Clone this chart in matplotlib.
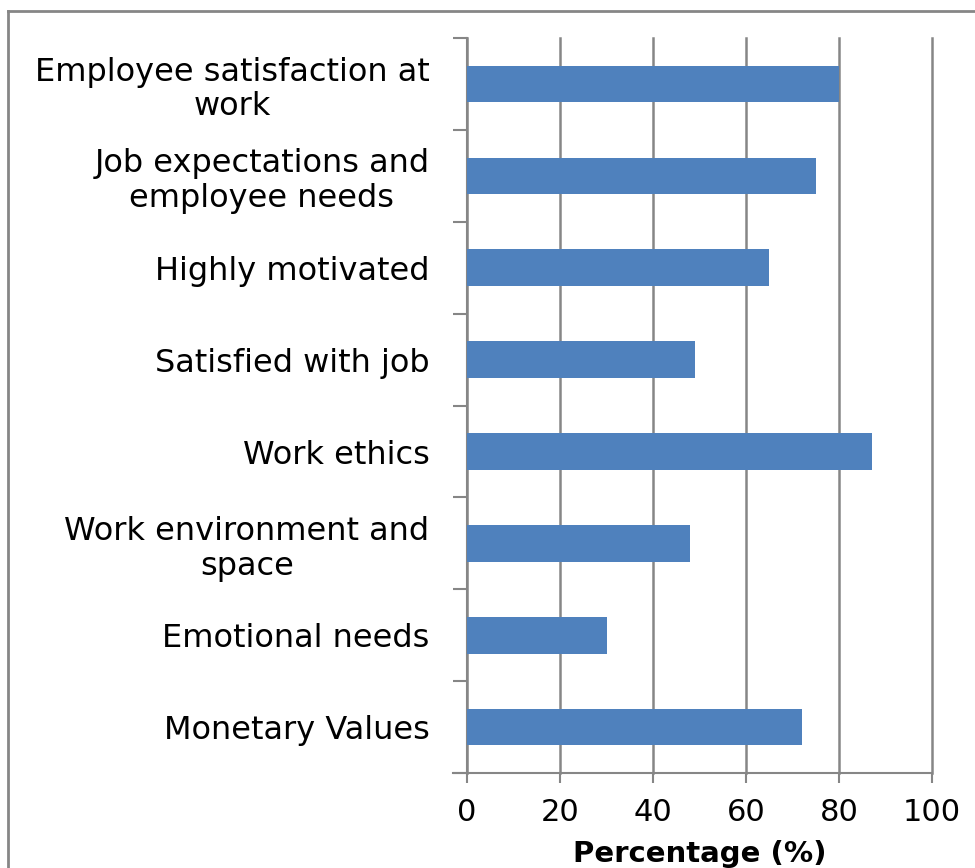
import matplotlib
matplotlib.use("Agg")
import matplotlib.pyplot as plt
from matplotlib.lines import Line2D

categories = [
    "Employee satisfaction at\nwork",
    "Job expectations and\nemployee needs",
    "Highly motivated",
    "Satisfied with job",
    "Work ethics",
    "Work environment and\nspace",
    "Emotional needs",
    "Monetary Values",
]
values = [80, 75, 65, 49, 87, 48, 30, 72]
x_ticks = [0, 20, 40, 60, 80, 100]

plt.rcParams["font.family"] = ["DejaVu Sans"]

fig = plt.figure(figsize=(9.75, 8.68), dpi=100)
ax = fig.add_axes([0.479, 0.1094, 0.477, 0.8466])

grid_col = "#868686"
n = len(categories)
ypos = list(range(n))[::-1]
ax.barh(ypos, values, height=0.4, color="#4F81BD", zorder=3)

ax.set_xlim(0, 100)
ax.set_ylim(-0.5, n - 0.5)
ax.set_xticks(x_ticks)
ax.set_xticklabels([str(t) for t in x_ticks], fontsize=22)
ax.set_yticks(ypos)
ax.set_yticklabels(categories, fontsize=23, linespacing=1.15,
                   multialignment="center")
ax.set_yticks([i - 0.5 for i in range(n + 1)], minor=True)
ax.tick_params(axis="y", which="major", length=0, pad=27)
ax.tick_params(axis="y", which="minor", length=10, width=1.5, color=grid_col)
ax.tick_params(axis="x", length=7, width=1.5, color=grid_col, pad=11)
ax.xaxis.grid(True, color=grid_col, linewidth=1.8, zorder=0)
for gl in ax.get_xgridlines():
    gl.set_clip_on(False)
ax.set_axisbelow(True)

for s in ["top", "right"]:
    ax.spines[s].set_visible(False)
ax.spines["left"].set_color(grid_col)
ax.spines["left"].set_linewidth(1.5)
ax.spines["bottom"].set_color(grid_col)
ax.spines["bottom"].set_linewidth(1.5)
ax.spines["bottom"].set_bounds(-3, 100)

ax.set_xlabel("Percentage (%)", fontsize=21, fontweight="bold", labelpad=9)

# outer frame (top and left edges)
fig.add_artist(Line2D([8 / 975, 1.0], [1 - 11 / 868, 1 - 11 / 868],
                      color=grid_col, linewidth=2, transform=fig.transFigure))
fig.add_artist(Line2D([8 / 975, 8 / 975], [0.0, 1 - 11 / 868],
                      color=grid_col, linewidth=2, transform=fig.transFigure))

fig.savefig("out.png", dpi=100)
